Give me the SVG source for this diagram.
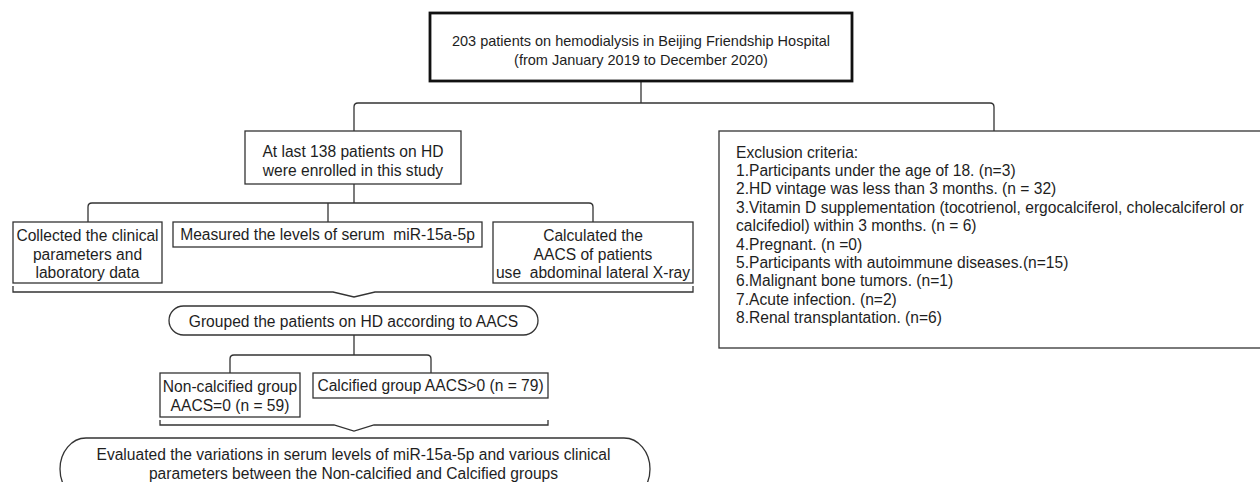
<svg xmlns="http://www.w3.org/2000/svg" width="1260" height="482" viewBox="0 0 1260 482">
<style>
  text { font-family: "Liberation Sans", Arial, sans-serif; font-size: 15.6px; fill: #1e1e1e; }
  .c { text-anchor: middle; }
  .top { font-size: 14.5px; }
  .box { fill: #fff; stroke: #333; stroke-width: 1.3; }
  .thick { fill: #fff; stroke: #111; stroke-width: 2.8; }
  .conn { fill: none; stroke: #333; stroke-width: 1.3; }
</style>
<rect width="1260" height="482" fill="#fff"/>
<g id="connectors">
  <path class="conn" d="M641,81 V103"/>
  <path class="conn" d="M354,131 V107 Q354,103 358,103 H990 Q994,103 994,107 V131"/>
  <path class="conn" d="M354,184 V203"/>
  <path class="conn" d="M88,222 V207 Q88,203 92,203 H589 Q593,203 593,207 V222"/>
  <path class="conn" d="M328,203 V222"/>
  <path class="conn" d="M13,286 V292 H333 L354,297 L375,292 H693 V286"/>
  <path class="conn" d="M354,335 V355"/>
  <path class="conn" d="M230,373 V359 Q230,355 234,355 H427 Q431,355 431,359 V373"/>
  <path class="conn" d="M160,420 V425 H334 L354,431 L374,425 H548 V420"/>
</g>
<g id="n-start">
  <rect class="thick" x="430" y="13" width="422" height="68"/>
  <text class="c top" x="641" y="46">203 patients on hemodialysis in Beijing Friendship Hospital</text>
  <text class="c top" x="641" y="65">(from January 2019 to December 2020)</text>
</g>
<g id="n-enrolled">
  <rect class="box" x="245" y="131" width="216" height="53"/>
  <text class="c" x="353" y="157">At last 138 patients on HD</text>
  <text class="c" x="353" y="175.5">were enrolled in this study</text>
</g>
<g id="n-exclusion">
  <rect class="box" x="719" y="131" width="560" height="217"/>
  <text x="736" y="157.5">Exclusion criteria:</text>
  <text x="736" y="175.9">1.Participants under the age of 18. (n=3)</text>
  <text x="736" y="194.3">2.HD vintage was less than 3 months. (n = 32)</text>
  <text x="736" y="212.7">3.Vitamin D supplementation (tocotrienol, ergocalciferol, cholecalciferol or</text>
  <text x="736" y="231.1">calcifediol) within 3 months. (n = 6)</text>
  <text x="736" y="249.5">4.Pregnant. (n =0)</text>
  <text x="736" y="267.9">5.Participants with autoimmune diseases.(n=15)</text>
  <text x="736" y="286.3">6.Malignant bone tumors. (n=1)</text>
  <text x="736" y="304.7">7.Acute infection. (n=2)</text>
  <text x="736" y="323.1">8.Renal transplantation. (n=6)</text>
</g>
<g id="n-collected">
  <rect class="box" x="13" y="222" width="149" height="61"/>
  <text class="c" x="87.5" y="241">Collected the clinical</text>
  <text class="c" x="87.5" y="259.5">parameters and</text>
  <text class="c" x="87.5" y="278">laboratory data</text>
</g>
<g id="n-measured">
  <rect class="box" x="173" y="222" width="309" height="25"/>
  <text class="c" x="327.5" y="240" xml:space="preserve">Measured the levels of serum  miR-15a-5p</text>
</g>
<g id="n-calculated">
  <rect class="box" x="493" y="222" width="200" height="61"/>
  <text class="c" x="593" y="241">Calculated the</text>
  <text class="c" x="593" y="259.5">AACS of patients</text>
  <text class="c" x="593" y="278" xml:space="preserve">use  abdominal lateral X-ray</text>
</g>
<g id="n-grouped">
  <rect class="box" x="169" y="306" width="369" height="29" rx="14.5" ry="14.5"/>
  <text class="c" x="353.5" y="327">Grouped the patients on HD according to AACS</text>
</g>
<g id="n-noncalcified">
  <rect class="box" x="160" y="373" width="140" height="44"/>
  <text class="c" x="230" y="392">Non-calcified group</text>
  <text class="c" x="230" y="410.5">AACS=0 (n = 59)</text>
</g>
<g id="n-calcified">
  <rect class="box" x="313" y="373" width="235" height="25"/>
  <text class="c" x="430.5" y="391">Calcified group AACS&gt;0 (n = 79)</text>
</g>
<g id="n-evaluated">
  <rect class="box" x="60" y="438" width="590" height="62" rx="26" ry="31"/>
  <text class="c" x="353.5" y="460">Evaluated the variations in serum levels of miR-15a-5p and various clinical</text>
  <text class="c" x="353.5" y="478.5">parameters between the Non-calcified and Calcified groups</text>
</g>
</svg>
